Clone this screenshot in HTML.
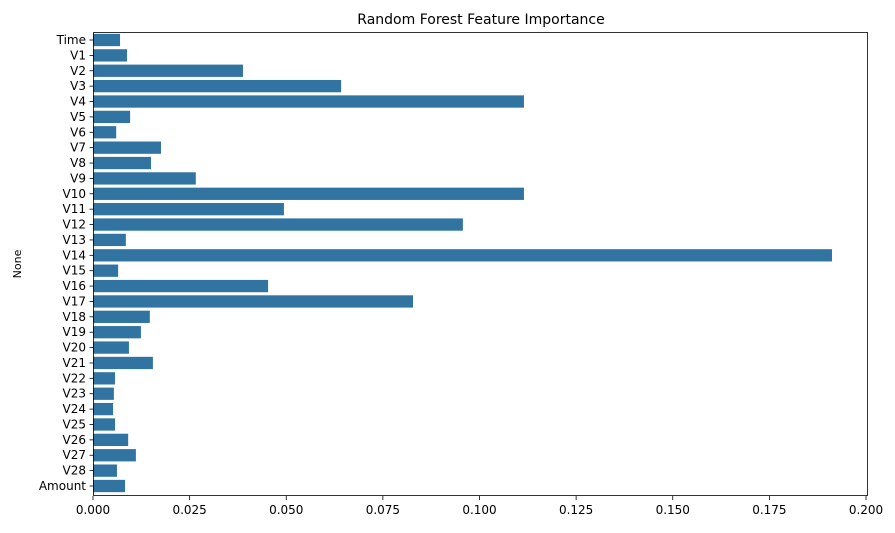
<!DOCTYPE html>
<html><head><meta charset="utf-8"><style>
body{margin:0;background:#fff;font-family:"Liberation Sans","DejaVu Sans",sans-serif;}
svg text{font-family:"DejaVu Sans","Liberation Sans",sans-serif;}
</style></head><body>
<svg id="chart" width="895" height="528" xmlns="http://www.w3.org/2000/svg">
<text x="481" y="24" font-size="14" text-anchor="middle" fill="#000">Random Forest Feature Importance</text>
<text x="0" y="0" font-size="11" text-anchor="middle" transform="translate(21,264) rotate(-90)">None</text>
<g id="bars"></g><g id="yt"></g><g id="xt"></g>
<rect x="93.5" y="32.5" width="774" height="463" fill="none" stroke="#000" stroke-width="0.8"/>
</svg>
<script>
const categories=["Time","V1","V2","V3","V4","V5","V6","V7","V8","V9","V10","V11","V12","V13","V14","V15","V16","V17","V18","V19","V20","V21","V22","V23","V24","V25","V26","V27","V28","Amount"];
const importances=[0.0070,0.0088,0.0388,0.0642,0.1115,0.0096,0.0060,0.0176,0.0150,0.0266,0.1115,0.0494,0.0957,0.0085,0.1912,0.0065,0.0453,0.0828,0.0147,0.0124,0.0093,0.0155,0.0057,0.0054,0.0052,0.0057,0.0091,0.0111,0.0062,0.0083];
const xTicks=[0,0.025,0.05,0.075,0.1,0.125,0.15,0.175,0.2];
const xTickLabels=["0.000","0.025","0.050","0.075","0.100","0.125","0.150","0.175","0.200"];
const NS="http://www.w3.org/2000/svg";
const x=v=>93+v*3865;
const y=i=>40+i*(446/29);
const bars=document.getElementById('bars'),yt=document.getElementById('yt'),xt=document.getElementById('xt');
categories.forEach((c,i)=>{
  const r=document.createElementNS(NS,'rect');
  
  
  r.setAttribute('x',x(0));r.setAttribute('y',y(i)-6.15);
  r.setAttribute('width',x(importances[i])-x(0));r.setAttribute('height',12.3);
  r.setAttribute('fill','#3274a1');bars.appendChild(r);
  const l=document.createElementNS(NS,'line');
  
  
  l.setAttribute('x1',89.5);l.setAttribute('x2',93.5);l.setAttribute('y1',y(i));l.setAttribute('y2',y(i));l.setAttribute('stroke','#000');l.setAttribute('stroke-width','0.8');yt.appendChild(l);
  const t=document.createElementNS(NS,'text');
  
  
  t.setAttribute('x',86);t.setAttribute('y',y(i)+4);t.setAttribute('font-size','12');t.setAttribute('text-anchor','end');t.textContent=c;yt.appendChild(t);
});
xTicks.forEach((v,i)=>{
  const l=document.createElementNS(NS,'line');
  
  
  l.setAttribute('x1',x(v));l.setAttribute('x2',x(v));l.setAttribute('y1',496);l.setAttribute('y2',500);l.setAttribute('stroke','#000');l.setAttribute('stroke-width','0.8');xt.appendChild(l);
  const t=document.createElementNS(NS,'text');
  
  
  t.setAttribute('x',x(v));t.setAttribute('y',514);t.setAttribute('font-size','12');t.setAttribute('text-anchor','middle');t.textContent=xTickLabels[i];xt.appendChild(t);
});
</script>
</body></html>
